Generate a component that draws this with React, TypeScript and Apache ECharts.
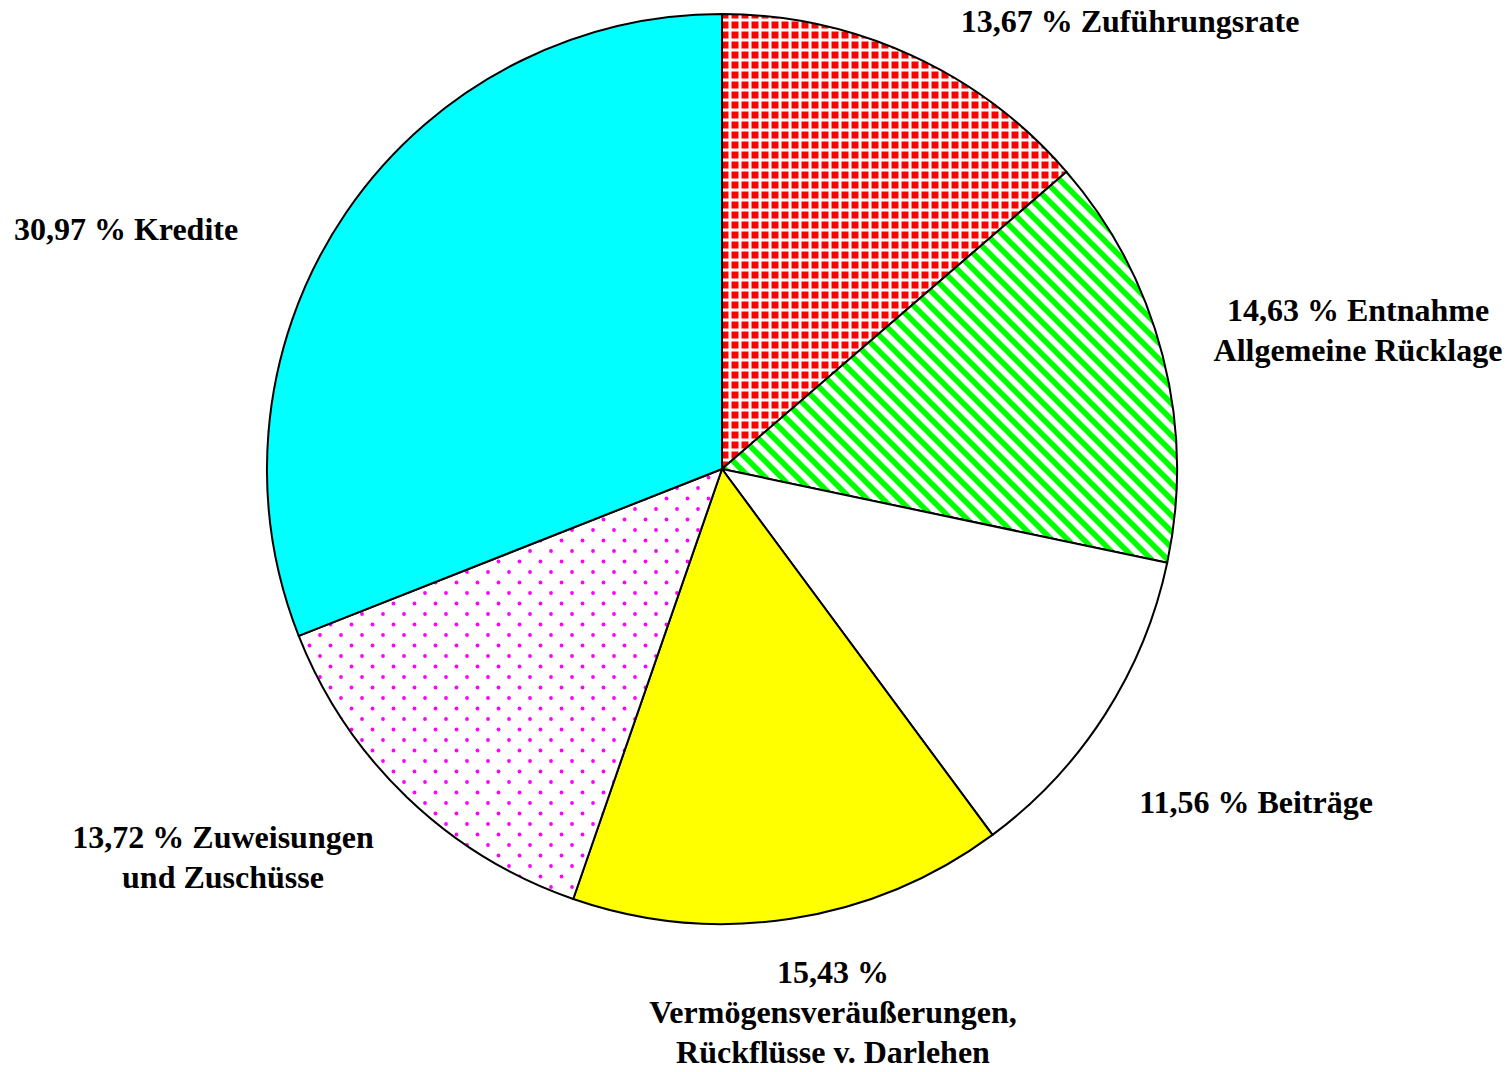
import React, { useEffect, useRef } from "react";
import * as echarts from "echarts";

const categories = [
  "Zuführungsrate",
  "Entnahme\nAllgemeine Rücklage",
  "Beiträge",
  "\nVermögensveräußerungen,\nRückflüsse v. Darlehen",
  "Zuweisungen\nund Zuschüsse",
  "Kredite",
];
const shares = [13.67, 14.63, 11.56, 15.43, 13.72, 30.97];
const labelCenters: [number, number][] = [
  [1130, 21],
  [1358, 330],
  [1256, 802],
  [833, 1012],
  [223, 857],
  [126, 229],
];

function checkTile(): HTMLCanvasElement {
  const c = document.createElement("canvas");
  c.width = 10;
  c.height = 10;
  const g = c.getContext("2d")!;
  g.fillStyle = "#ffffff";
  g.fillRect(0, 0, 10, 10);
  g.fillStyle = "#ff0000";
  g.fillRect(1.5, 1.5, 7, 7);
  return c;
}

function stripeTile(): HTMLCanvasElement {
  const s = 16;
  const c = document.createElement("canvas");
  c.width = s;
  c.height = s;
  const g = c.getContext("2d")!;
  g.fillStyle = "#ffffff";
  g.fillRect(0, 0, s, s);
  g.strokeStyle = "#00ff00";
  g.lineWidth = 5.5;
  for (const k of [-s, 0, s]) {
    g.beginPath();
    g.moveTo(k - 3, -3);
    g.lineTo(k + s + 3, s + 3);
    g.stroke();
  }
  return c;
}

function dotTile(): HTMLCanvasElement {
  const s = 21;
  const c = document.createElement("canvas");
  c.width = s;
  c.height = s;
  const g = c.getContext("2d")!;
  g.fillStyle = "#ffffff";
  g.fillRect(0, 0, s, s);
  g.fillStyle = "#ff00ff";
  for (const [x, y] of [
    [5, 5],
    [15.5, 15.5],
  ]) {
    g.beginPath();
    g.arc(x, y, 1.9, 0, Math.PI * 2);
    g.fill();
  }
  return c;
}

export default function App() {
  const ref = useRef<HTMLDivElement>(null);
  useEffect(() => {
    if (!ref.current) return;
    const chart = echarts.init(ref.current, null, { renderer: "svg" });
    const ct = checkTile();
    const st = stripeTile();
    const dt = dotTile();
    const fills: any[] = [
      { image: ct, repeat: "repeat", imageWidth: ct.width, imageHeight: ct.height },
      { image: st, repeat: "repeat", imageWidth: st.width, imageHeight: st.height },
      "#ffffff",
      "#ffff00",
      { image: dt, repeat: "repeat", imageWidth: dt.width, imageHeight: dt.height },
      "#00ffff",
    ];
    chart.setOption({
      animation: false,
      backgroundColor: "#ffffff",
      series: [
        {
          type: "pie",
          center: [722, 469],
          radius: 455,
          startAngle: 90,
          clockwise: true,
          avoidLabelOverlap: false,
          emphasis: { disabled: true },
          itemStyle: { borderColor: "#000000", borderWidth: 2 },
          labelLine: { show: false },
          label: {
            show: true,
            position: "outside",
            fontFamily: "Liberation Serif",
            fontWeight: "bold",
            fontSize: 32,
            lineHeight: 40,
            color: "#000000",
            align: "center",
            formatter: (p: any) => {
              const pct = (p.value as number).toFixed(2).replace(".", ",");
              const name: string = p.name;
              return `${pct} %${name.startsWith("\n") ? "" : " "}${name}`;
            },
          },
          labelLayout: (p: any) => {
            const [x, y] = labelCenters[p.dataIndex];
            return { x, y, align: "center", verticalAlign: "middle" };
          },
          data: categories.map((name, i) => ({
            name,
            value: shares[i],
            itemStyle: { color: fills[i] },
          })),
        },
      ],
    });
    return () => chart.dispose();
  }, []);
  return (
    <div
      ref={ref}
      style={{ position: "absolute", left: 0, top: 0, width: 1512, height: 1072 }}
    />
  );
}
